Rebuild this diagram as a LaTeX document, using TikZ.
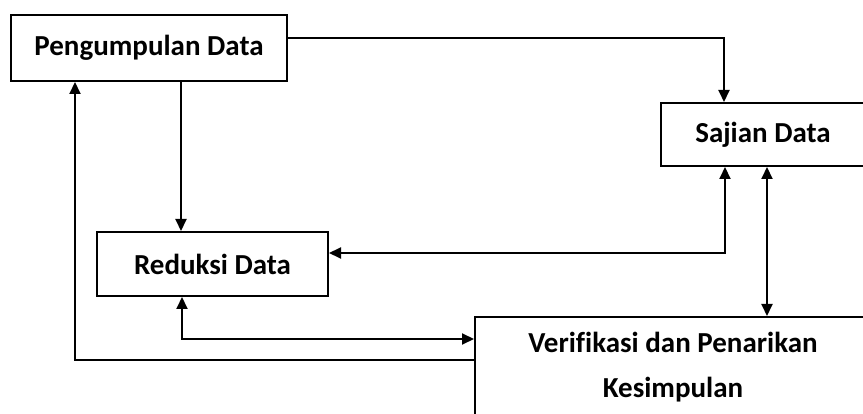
\documentclass[tikz,border=0pt]{standalone}
\usepackage{fontspec}
\setmainfont{Carlito}[Ligatures=NoCommon]
\usetikzlibrary{arrows.meta}
\begin{document}
\begin{tikzpicture}[x=1pt,y=-1pt,
  box/.style={draw=black, line width=2pt, rectangle, inner sep=0pt, font=\fontsize{29}{45}\selectfont\bfseries, align=center},
  conn/.style={draw=black, line width=2pt, -{Triangle[length=12pt,width=11pt]}},
  conn2/.style={draw=black, line width=2pt, {Triangle[length=12pt,width=11pt]}-{Triangle[length=12pt,width=11pt]}}]
\useasboundingbox (0,0) rectangle (863,414);
\clip (0,0) rectangle (863,414);
\fill[white] (0,0) rectangle (863,414);
\node[box, minimum width=276pt, minimum height=66pt] (P) at (149,48) {Pengumpulan Data};
\node[box, minimum width=204pt, minimum height=63pt] (S) at (763,134.5) {Sajian Data};
\node[box, minimum width=231pt, minimum height=64pt] (R) at (212.5,264) {Reduksi Data};
\node[box, minimum width=396pt, minimum height=100pt] (V) at (673,367) {Verifikasi dan Penarikan\\Kesimpulan};
\draw[conn] ([yshift=10pt]P.east) -| ([xshift=-39pt]S.north);
\draw[conn] ([xshift=32pt]P.south) -- ([xshift=32pt]P.south |- R.north);
\draw[conn2] ([xshift=-38pt]S.south) |- ([yshift=11pt]R.east);
\draw[conn2] ([xshift=4pt]S.south) -- ([xshift=4pt]S.south |- V.north);
\draw[conn2] ([xshift=-30.5pt]R.south) |- ([yshift=28pt]V.west);
\draw[conn] ([yshift=7pt]V.west) -| ([xshift=-74pt]P.south);
\end{tikzpicture}
\end{document}
